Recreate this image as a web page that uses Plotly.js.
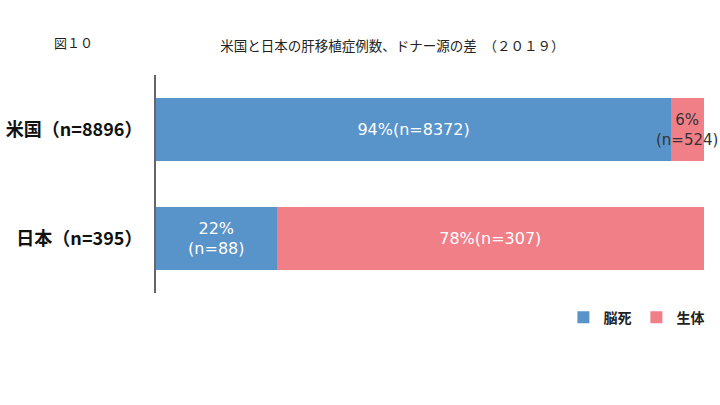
<!DOCTYPE html>
<html>
<head>
<meta charset="utf-8">
<script src="https://cdn.plot.ly/plotly-3.0.1.min.js"></script>
<style>
  html, body { margin: 0; padding: 0; background: #fff; }
  #chart { width: 720px; height: 405px; }
</style>
</head>
<body>
<div id="chart"></div>
<script>
// 米国 / 日本, share of donor source (%)
let countries = ["米国（n=8896）", "日本（n=395）"];
let brain_pct = [94, 22];
let brain_n = [8372, 88];
let living_pct = [6, 78];
let living_n = [524, 307];
let series_names = ["脳死", "生体"];

let jp_font = "'Noto Sans CJK JP', 'Noto Sans', sans-serif";
let num_font = "'DejaVu Sans', sans-serif";

function barText(pct, n, split) {
    let out = [];
    for (let i = 0; i < pct.length; i++) {
        out.push(pct[i] + "%" + (split[i] ? "<br>" : "") + "(n=" + n[i] + ")");
    }
    return out;
}

let living_text = barText(living_pct, living_n, [true, false]);

let data = [
    {
        type: "bar", orientation: "h", name: series_names[0],
        y: countries, x: brain_pct,
        text: barText(brain_pct, brain_n, [false, true]),
        textposition: "inside", textangle: 0, insidetextanchor: "middle",
        textfont: { color: "#ffffff", size: 16, family: num_font },
        marker: { color: "#5893c9" },
        hoverinfo: "none"
    },
    {
        type: "bar", orientation: "h", name: series_names[1],
        y: countries, x: living_pct,
        text: living_text,
        // the narrow US segment gets its label as an annotation (it overflows the bar)
        textposition: ["none", "inside"], textangle: 0, insidetextanchor: "middle",
        textfont: { color: "#ffffff", size: 16, family: num_font },
        marker: { color: "#f07f88" },
        hoverinfo: "none"
    }
];

let layout = {
    width: 720, height: 405,
    margin: { l: 156, r: 15, t: 75, b: 112 },
    barmode: "stack",
    bargap: 0.42,
    paper_bgcolor: "#ffffff",
    plot_bgcolor: "#ffffff",
    font: { family: jp_font, color: "#222222" },
    title: {
        text: "米国と日本の肝移植症例数、ドナー源の差　（２０１９）",
        font: { size: 13.5, color: "#222222" },
        x: 0.545, xanchor: "center", y: 0.885, yanchor: "middle"
    },
    xaxis: {
        range: [0, 100], visible: false, fixedrange: true
    },
    yaxis: {
        autorange: "reversed",
        showline: true, linecolor: "#666666", linewidth: 2,
        ticks: "", showgrid: false, zeroline: false,
        ticklabelstandoff: 8,
        tickfont: { size: 18, color: "#111111", family: jp_font, weight: "bold" }
    },
    showlegend: true,
    legend: {
        orientation: "h", x: 1.008, xanchor: "right", y: -0.04, yanchor: "top",
        font: { size: 14, weight: "bold", color: "#222222" },
        traceorder: "normal", itemwidth: 30
    },
    annotations: [
        {
            text: "図１０", xref: "paper", yref: "paper",
            x: -0.19, y: 1.151, xanchor: "left", yanchor: "middle",
            showarrow: false, font: { size: 13, color: "#222222" }
        },
        {
            text: living_text[0], xref: "x", yref: "y",
            x: brain_pct[0] + living_pct[0] / 2, y: countries[0],
            xanchor: "center", yanchor: "middle", showarrow: false, xshift: -1,
            font: { size: 15, color: "#333333", family: num_font }
        }
    ]
};

Plotly.newPlot("chart", data, layout, { displayModeBar: false, staticPlot: true });
</script>
</body>
</html>
